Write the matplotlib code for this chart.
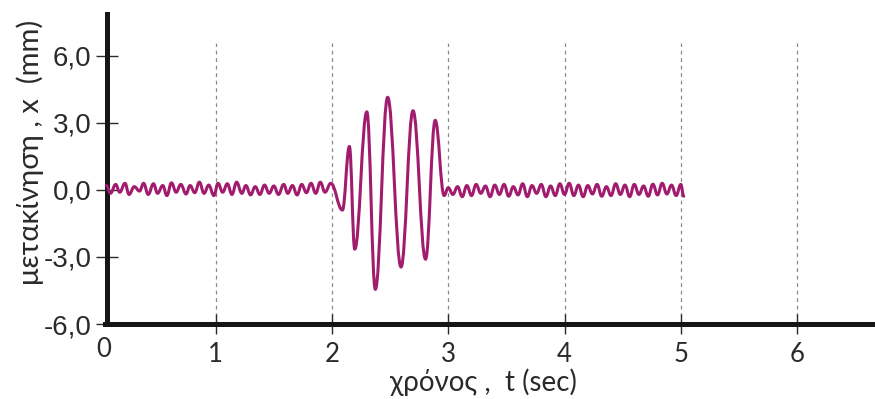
import numpy as np
import matplotlib.pyplot as plt
from matplotlib.path import Path
from matplotlib.patches import PathPatch

# extrema of the trace (time in s, displacement in mm)
t_pre = [0.06, 0.095, 0.14, 0.175, 0.22, 0.255, 0.30, 0.345, 0.38, 0.42,
         0.465, 0.50, 0.545, 0.58, 0.62, 0.66, 0.70, 0.745, 0.78, 0.82,
         0.86, 0.90, 0.94, 0.985, 1.02, 1.06, 1.10, 1.14, 1.18, 1.225,
         1.26, 1.30, 1.34, 1.38, 1.42, 1.46, 1.50, 1.54, 1.585, 1.62,
         1.66, 1.70, 1.74, 1.78, 1.82, 1.86, 1.90, 1.94, 1.99]
x_pre = [0.20, -0.15, 0.25, -0.10, 0.30, -0.20, 0.15, -0.05, 0.30, -0.20,
         0.28, -0.15, 0.20, -0.25, 0.32, -0.10, 0.25, -0.18, 0.20, -0.12,
         0.35, -0.15, 0.22, -0.25, 0.30, -0.10, 0.28, -0.20, 0.35, -0.15,
         0.20, -0.22, 0.15, -0.20, 0.22, -0.15, 0.18, -0.20, 0.25, -0.15,
         0.20, -0.22, 0.25, -0.12, 0.30, -0.15, 0.35, -0.10, 0.30]

t_burst = [2.09, 2.15, 2.196, 2.30, 2.373, 2.479, 2.594, 2.697, 2.805, 2.888, 2.965]
x_burst = [-0.9, 1.95, -2.65, 3.5, -4.45, 4.15, -3.45, 3.55, -3.1, 3.12, -0.25]

t_post = [3.00, 3.04, 3.08, 3.12, 3.16, 3.20, 3.24, 3.28, 3.32, 3.36,
          3.40, 3.44, 3.48, 3.52, 3.56, 3.60, 3.64, 3.68, 3.72, 3.76,
          3.80, 3.84, 3.88, 3.92, 3.96, 4.00, 4.04, 4.08, 4.12, 4.16,
          4.20, 4.24, 4.28, 4.32, 4.36, 4.40, 4.44, 4.48, 4.52, 4.56,
          4.60, 4.64, 4.68, 4.72, 4.76, 4.80, 4.84, 4.88, 4.92, 4.96,
          5.00, 5.025]
x_post = [0.10, -0.20, 0.15, -0.30, 0.20, -0.25, 0.25, -0.15, 0.18, -0.30,
          0.22, -0.20, 0.25, -0.28, 0.15, -0.22, 0.28, -0.30, 0.20, -0.15,
          0.25, -0.30, 0.18, -0.25, 0.28, -0.20, 0.30, -0.25, 0.22, -0.30,
          0.20, -0.18, 0.25, -0.28, 0.15, -0.25, 0.28, -0.20, 0.22, -0.30,
          0.25, -0.20, 0.18, -0.28, 0.26, -0.22, 0.30, -0.18, 0.22, -0.25,
          0.25, -0.28]

x_ticks = [1, 2, 3, 4, 5, 6]
y_ticks = [-6, -3, 0, 3, 6]
y_ticklabels = ['-6,0', '-3,0', '0,0', '3,0', '6,0']

t_all = np.array(t_pre + t_burst + t_post)
x_all = np.array(x_pre + x_burst + x_post)

# smooth curve through the extrema (flat tangent at each one)
verts = [(t_all[0], x_all[0])]
codes = [Path.MOVETO]
for i in range(len(t_all) - 1):
    dt = t_all[i + 1] - t_all[i]
    verts += [(t_all[i] + 0.4 * dt, x_all[i]),
              (t_all[i + 1] - 0.4 * dt, x_all[i + 1]),
              (t_all[i + 1], x_all[i + 1])]
    codes += [Path.CURVE4] * 3

fig = plt.figure(figsize=(8.75, 3.99), dpi=100)
ax = fig.add_axes([99.4 / 875, 75 / 399, 775.6 / 875, 310 / 399])
ax.set_xlim(0, 6.67)
ax.set_ylim(-6, 7.88)

ax.vlines(x_ticks, -6, 6.58, colors='#8a8a8a', linestyles=(0, (3, 3)), lw=0.9, zorder=1)

ax.add_patch(PathPatch(Path(verts, codes), fill=False, edgecolor='#a11c6e',
                       lw=2.2, capstyle='round', joinstyle='round', zorder=3))

for s in ['top', 'right']:
    ax.spines[s].set_visible(False)
ax.spines['left'].set_position(('data', 0.065))
ax.spines['left'].set_linewidth(3.6)
ax.spines['left'].set_color('#161616')
ax.spines['bottom'].set_linewidth(3.6)
ax.spines['bottom'].set_color('#161616')
ax.spines['bottom'].set_bounds(0.05, 6.67)

fam = ['Lato', 'DejaVu Sans']
txt = '#2a2a2a'
ax.set_xticks(x_ticks)
ax.set_xticklabels([str(v) for v in x_ticks], family=fam, fontsize=18.5)
ax.set_yticks(y_ticks)
ax.set_yticklabels(y_ticklabels, family='Liberation Sans', fontsize=20)
ax.tick_params(axis='x', direction='inout', length=14, width=1.0, pad=6, colors=txt)
ax.tick_params(axis='y', direction='inout', length=16, width=1.0, pad=3, colors=txt)
ax.text(0.035, -6.6, '0', family=fam, fontsize=18.5, ha='center', va='top', color=txt)

fig.text(483 / 875, 1 - 382 / 399, 'χρόνος ,  t (sec)', family=fam, fontsize=20,
         ha='center', va='center', color=txt)
fig.text(30 / 875, 1 - 152 / 399, 'μετακίνηση , x  (mm)', family=fam, fontsize=21,
         rotation=90, ha='center', va='center', color=txt)

fig.savefig('out.png', dpi=100)
